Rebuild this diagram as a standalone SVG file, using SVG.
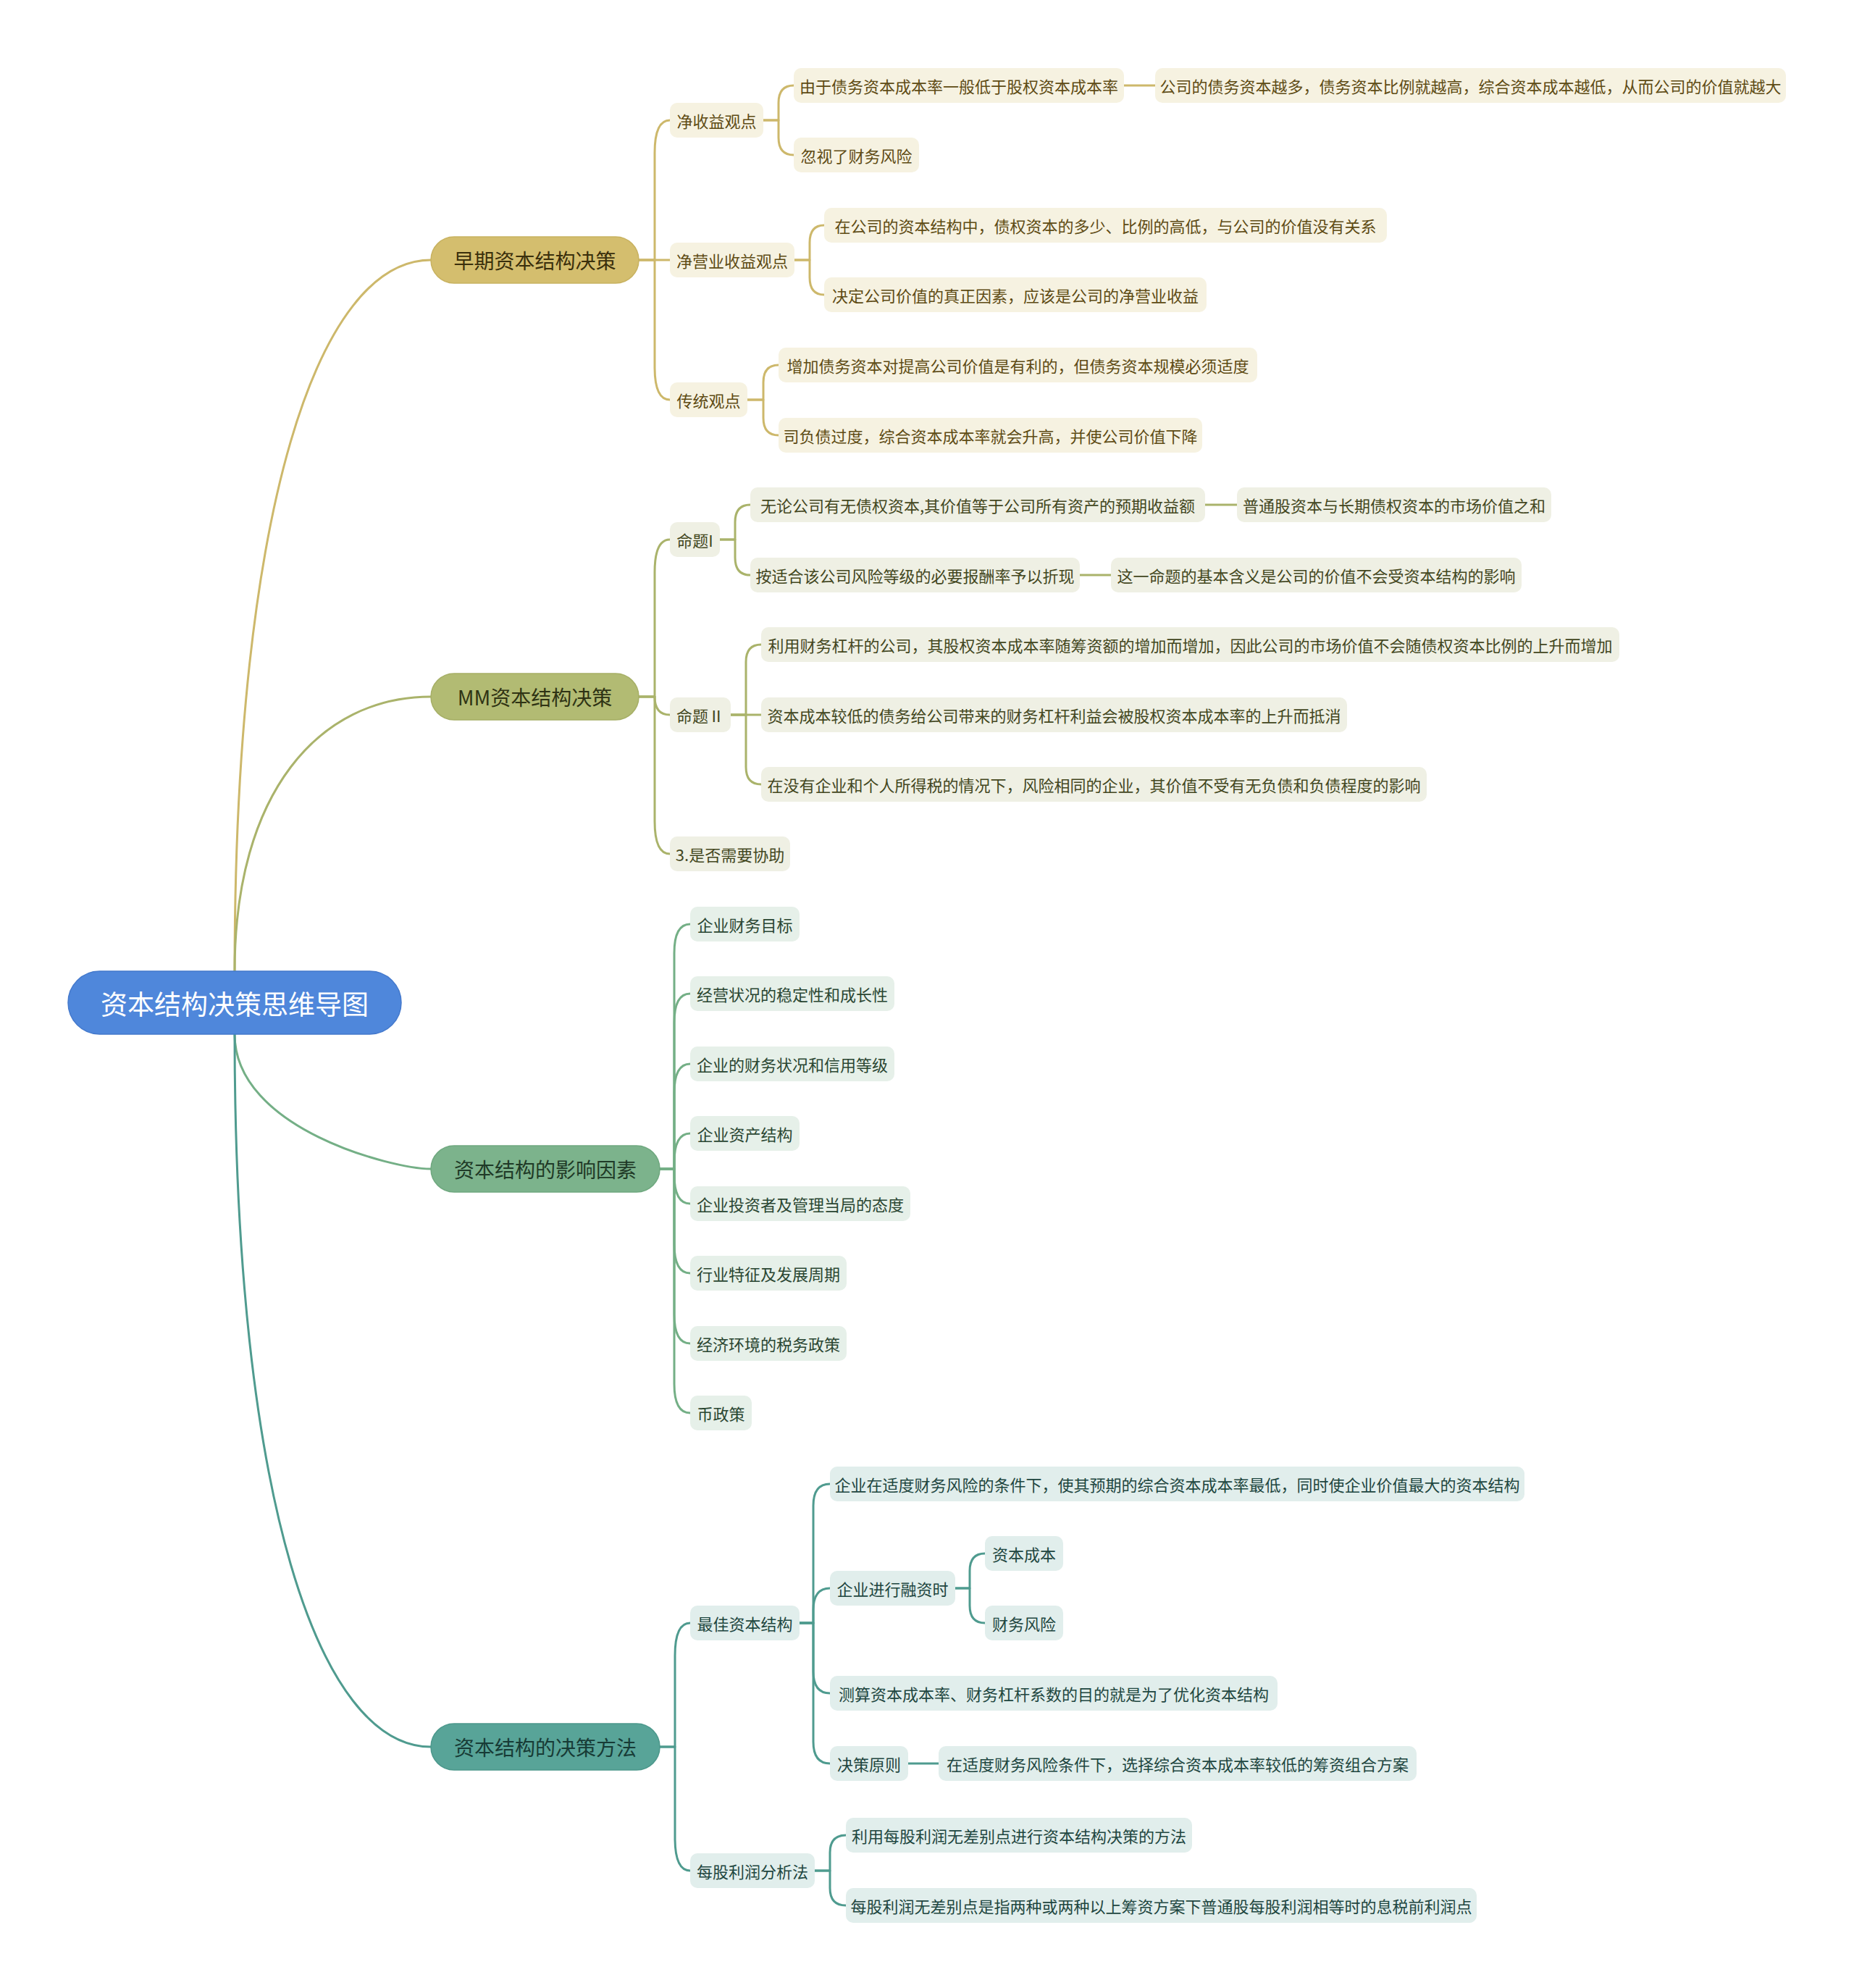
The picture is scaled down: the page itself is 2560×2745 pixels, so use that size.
<svg xmlns="http://www.w3.org/2000/svg" width="2560" height="2745" viewBox="0 0 2560 2745">
<style>
text{font-family:"Noto Sans CJK SC","Noto Sans",sans-serif;text-anchor:middle;dominant-baseline:central;}
.f0{font-size:37px;fill:#ffffff;}
.f1{font-size:28px;}
.f2{font-size:22px;}
.c{fill:none;stroke-width:3;stroke-linecap:round;stroke-linejoin:round;}
.cg{stroke:#CDB86B;} .co{stroke:#AAB36B;} .cn{stroke:#74AF86;} .ct{stroke:#4F9B8F;}
.rg{fill:#F6F2E1;} .ro{fill:#EFF0E4;} .rn{fill:#E6F0E9;} .rt{fill:#E1EEEC;}
.tg{fill:#5E4B14;} .to{fill:#43471E;} .tn{fill:#2A4632;} .tt{fill:#1E4640;}
</style>
<rect width="2560" height="2745" fill="#ffffff"/>
<g id="connectors">
<path class="c cg" d="M 324 1341 C 324 700 440 359 595 359"/>
<path class="c co" d="M 324 1341 C 324 1095 440 962 595 962"/>
<path class="c cn" d="M 324 1428 C 324 1559 543 1614 595 1614"/>
<path class="c ct" d="M 324 1428 C 324 2068 440 2412 595 2412"/>
<!-- A -->
<path class="c cg" d="M 882 359 H 904 V 211 Q 904 166 925 166"/>
<path class="c cg" d="M 882 359 H 925"/>
<path class="c cg" d="M 882 359 H 904 V 507 Q 904 552 925 552"/>
<path class="c cg" d="M 1054 166 H 1075 V 142 Q 1075 118 1096 118"/>
<path class="c cg" d="M 1054 166 H 1075 V 190 Q 1075 214 1096 214"/>
<path class="c cg" d="M 1097 359 H 1118 V 335 Q 1118 311 1138 311"/>
<path class="c cg" d="M 1097 359 H 1118 V 383 Q 1118 407 1138 407"/>
<path class="c cg" d="M 1032 552 H 1054 V 528 Q 1054 504 1075 504"/>
<path class="c cg" d="M 1032 552 H 1054 V 577 Q 1054 601 1075 601"/>
<path class="c cg" d="M 1552 118 H 1595"/>
<!-- B -->
<path class="c co" d="M 882 962 H 904 V 790 Q 904 745 925 745"/>
<path class="c co" d="M 882 962 H 904 Q 904 987 925 987"/>
<path class="c co" d="M 882 962 H 904 V 1134 Q 904 1179 925 1179"/>
<path class="c co" d="M 994 745 H 1015 V 721 Q 1015 697 1036 697"/>
<path class="c co" d="M 994 745 H 1015 V 770 Q 1015 794 1036 794"/>
<path class="c co" d="M 1009 987 H 1030 V 914 Q 1030 890 1051 890"/>
<path class="c co" d="M 1009 987 H 1051"/>
<path class="c co" d="M 1009 987 H 1030 V 1059 Q 1030 1083 1051 1083"/>
<path class="c co" d="M 1664 697 H 1708"/>
<path class="c co" d="M 1491 794 H 1534"/>
<!-- C -->
<path class="c cn" d="M 911 1614 H 931 V 1316 Q 931 1276 953 1276"/>
<path class="c cn" d="M 911 1614 H 931 V 1412 Q 931 1372 953 1372"/>
<path class="c cn" d="M 911 1614 H 931 V 1509 Q 931 1469 953 1469"/>
<path class="c cn" d="M 911 1614 H 931 V 1605 Q 931 1565 953 1565"/>
<path class="c cn" d="M 911 1614 H 931 V 1622 Q 931 1662 953 1662"/>
<path class="c cn" d="M 911 1614 H 931 V 1718 Q 931 1758 953 1758"/>
<path class="c cn" d="M 911 1614 H 931 V 1815 Q 931 1855 953 1855"/>
<path class="c cn" d="M 911 1614 H 931 V 1911 Q 931 1951 953 1951"/>
<!-- D -->
<path class="c ct" d="M 911 2412 H 932 V 2286 Q 932 2241 953 2241"/>
<path class="c ct" d="M 911 2412 H 932 V 2538 Q 932 2583 953 2583"/>
<path class="c ct" d="M 1104 2241 H 1123 V 2079 Q 1123 2049 1146 2049"/>
<path class="c ct" d="M 1104 2241 H 1123 V 2223 Q 1123 2193 1146 2193"/>
<path class="c ct" d="M 1104 2241 H 1123 V 2308 Q 1123 2338 1146 2338"/>
<path class="c ct" d="M 1104 2241 H 1123 V 2405 Q 1123 2435 1146 2435"/>
<path class="c ct" d="M 1319 2193 H 1339 V 2169 Q 1339 2145 1360 2145"/>
<path class="c ct" d="M 1319 2193 H 1339 V 2217 Q 1339 2241 1360 2241"/>
<path class="c ct" d="M 1254 2435 H 1296"/>
<path class="c ct" d="M 1125 2583 H 1146 V 2558 Q 1146 2534 1168 2534"/>
<path class="c ct" d="M 1125 2583 H 1146 V 2607 Q 1146 2631 1168 2631"/>
</g>
<g id="root"><rect x="94" y="1341" width="460" height="87" rx="43.5" fill="#4F87DB" stroke="#4479CC" stroke-width="1.5"/><text class="f0" x="324" y="1385">资本结构决策思维导图</text></g>
<g id="n-A"><rect x="595" y="327" width="287" height="64" rx="32" fill="#D4BE6E" stroke="#C8B260" stroke-width="1.5"/><text class="f1" x="738.5" y="359" fill="#3A2F0C">早期资本结构决策</text></g>
<g id="n-B"><rect x="595" y="930" width="287" height="64" rx="32" fill="#B2BB73" stroke="#A6AF66" stroke-width="1.5"/><text class="f1" x="738.5" y="962" fill="#2F3314">MM资本结构决策</text></g>
<g id="n-C"><rect x="595" y="1582" width="316" height="64" rx="32" fill="#7CB38C" stroke="#6FA87F" stroke-width="1.5"/><text class="f1" x="753" y="1614" fill="#1F3A27">资本结构的影响因素</text></g>
<g id="n-D"><rect x="595" y="2380" width="316" height="64" rx="32" fill="#58A498" stroke="#4C988C" stroke-width="1.5"/><text class="f1" x="753" y="2412" fill="#173B36">资本结构的决策方法</text></g>
<!-- A children -->
<g id="n-A1"><rect class="rg" x="925" y="142" width="129" height="48" rx="10"/><text class="f2 tg" x="989.5" y="166">净收益观点</text></g>
<g id="n-A2"><rect class="rg" x="925" y="335" width="172" height="48" rx="10"/><text class="f2 tg" x="1011" y="359">净营业收益观点</text></g>
<g id="n-A3"><rect class="rg" x="925" y="528" width="107" height="48" rx="10"/><text class="f2 tg" x="978.5" y="552">传统观点</text></g>
<g id="n-A1a"><rect class="rg" x="1096" y="94" width="456" height="48" rx="10"/><text class="f2 tg" x="1324" y="118">由于债务资本成本率一般低于股权资本成本率</text></g>
<g id="n-A1a1"><rect class="rg" x="1595" y="94" width="871" height="48" rx="10"/><text class="f2 tg" x="2030.5" y="118">公司的债务资本越多，债务资本比例就越高，综合资本成本越低，从而公司的价值就越大</text></g>
<g id="n-A1b"><rect class="rg" x="1096" y="190" width="173" height="48" rx="10"/><text class="f2 tg" x="1182.5" y="214">忽视了财务风险</text></g>
<g id="n-A2a"><rect class="rg" x="1138" y="287" width="777" height="48" rx="10"/><text class="f2 tg" x="1526.5" y="311">在公司的资本结构中，债权资本的多少、比例的高低，与公司的价值没有关系</text></g>
<g id="n-A2b"><rect class="rg" x="1138" y="383" width="528" height="48" rx="10"/><text class="f2 tg" x="1402" y="407">决定公司价值的真正因素，应该是公司的净营业收益</text></g>
<g id="n-A3a"><rect class="rg" x="1075" y="480" width="661" height="48" rx="10"/><text class="f2 tg" x="1405.5" y="504">增加债务资本对提高公司价值是有利的，但债务资本规模必须适度</text></g>
<g id="n-A3b"><rect class="rg" x="1075" y="577" width="585" height="48" rx="10"/><text class="f2 tg" x="1367.5" y="601">司负债过度，综合资本成本率就会升高，并使公司价值下降</text></g>
<!-- B children -->
<g id="n-B1"><rect class="ro" x="925" y="721" width="69" height="48" rx="10"/><text class="f2 to" x="959.5" y="745">命题I</text></g>
<g id="n-B2"><rect class="ro" x="925" y="963" width="84" height="48" rx="10"/><text class="f2 to" x="967" y="987">命题Ⅱ</text></g>
<g id="n-B3"><rect class="ro" x="925" y="1155" width="166" height="48" rx="10"/><text class="f2 to" x="1008" y="1179">3.是否需要协助</text></g>
<g id="n-B1a"><rect class="ro" x="1036" y="673" width="628" height="48" rx="10"/><text class="f2 to" x="1350" y="697">无论公司有无债权资本,其价值等于公司所有资产的预期收益额</text></g>
<g id="n-B1a1"><rect class="ro" x="1708" y="673" width="434" height="48" rx="10"/><text class="f2 to" x="1925" y="697">普通股资本与长期债权资本的市场价值之和</text></g>
<g id="n-B1b"><rect class="ro" x="1036" y="770" width="455" height="48" rx="10"/><text class="f2 to" x="1263.5" y="794">按适合该公司风险等级的必要报酬率予以折现</text></g>
<g id="n-B1b1"><rect class="ro" x="1534" y="770" width="567" height="48" rx="10"/><text class="f2 to" x="1817.5" y="794">这一命题的基本含义是公司的价值不会受资本结构的影响</text></g>
<g id="n-B2a"><rect class="ro" x="1051" y="866" width="1185" height="48" rx="10"/><text class="f2 to" x="1643.5" y="890">利用财务杠杆的公司，其股权资本成本率随筹资额的增加而增加，因此公司的市场价值不会随债权资本比例的上升而增加</text></g>
<g id="n-B2b"><rect class="ro" x="1051" y="963" width="809" height="48" rx="10"/><text class="f2 to" x="1455.5" y="987">资本成本较低的债务给公司带来的财务杠杆利益会被股权资本成本率的上升而抵消</text></g>
<g id="n-B2c"><rect class="ro" x="1051" y="1059" width="919" height="48" rx="10"/><text class="f2 to" x="1510.5" y="1083">在没有企业和个人所得税的情况下，风险相同的企业，其价值不受有无负债和负债程度的影响</text></g>
<!-- C children -->
<g id="n-C1"><rect class="rn" x="953" y="1252" width="151" height="48" rx="10"/><text class="f2 tn" x="1028.5" y="1276">企业财务目标</text></g>
<g id="n-C2"><rect class="rn" x="953" y="1348" width="282" height="48" rx="10"/><text class="f2 tn" x="1094" y="1372">经营状况的稳定性和成长性</text></g>
<g id="n-C3"><rect class="rn" x="953" y="1445" width="282" height="48" rx="10"/><text class="f2 tn" x="1094" y="1469">企业的财务状况和信用等级</text></g>
<g id="n-C4"><rect class="rn" x="953" y="1541" width="151" height="48" rx="10"/><text class="f2 tn" x="1028.5" y="1565">企业资产结构</text></g>
<g id="n-C5"><rect class="rn" x="953" y="1638" width="304" height="48" rx="10"/><text class="f2 tn" x="1105" y="1662">企业投资者及管理当局的态度</text></g>
<g id="n-C6"><rect class="rn" x="953" y="1734" width="216" height="48" rx="10"/><text class="f2 tn" x="1061" y="1758">行业特征及发展周期</text></g>
<g id="n-C7"><rect class="rn" x="953" y="1831" width="216" height="48" rx="10"/><text class="f2 tn" x="1061" y="1855">经济环境的税务政策</text></g>
<g id="n-C8"><rect class="rn" x="953" y="1927" width="85" height="48" rx="10"/><text class="f2 tn" x="995.5" y="1951">币政策</text></g>
<!-- D children -->
<g id="n-D1"><rect class="rt" x="953" y="2217" width="151" height="48" rx="10"/><text class="f2 tt" x="1028.5" y="2241">最佳资本结构</text></g>
<g id="n-D2"><rect class="rt" x="953" y="2559" width="172" height="48" rx="10"/><text class="f2 tt" x="1039" y="2583">每股利润分析法</text></g>
<g id="n-D1a"><rect class="rt" x="1146" y="2025" width="959" height="48" rx="10"/><text class="f2 tt" x="1625.5" y="2049">企业在适度财务风险的条件下，使其预期的综合资本成本率最低，同时使企业价值最大的资本结构</text></g>
<g id="n-D1b"><rect class="rt" x="1146" y="2169" width="173" height="48" rx="10"/><text class="f2 tt" x="1232.5" y="2193">企业进行融资时</text></g>
<g id="n-D1b1"><rect class="rt" x="1360" y="2121" width="108" height="48" rx="10"/><text class="f2 tt" x="1414" y="2145">资本成本</text></g>
<g id="n-D1b2"><rect class="rt" x="1360" y="2217" width="108" height="48" rx="10"/><text class="f2 tt" x="1414" y="2241">财务风险</text></g>
<g id="n-D1c"><rect class="rt" x="1146" y="2314" width="618" height="48" rx="10"/><text class="f2 tt" x="1455" y="2338">测算资本成本率、财务杠杆系数的目的就是为了优化资本结构</text></g>
<g id="n-D1d"><rect class="rt" x="1146" y="2411" width="108" height="48" rx="10"/><text class="f2 tt" x="1200" y="2435">决策原则</text></g>
<g id="n-D1d1"><rect class="rt" x="1296" y="2411" width="660" height="48" rx="10"/><text class="f2 tt" x="1626" y="2435">在适度财务风险条件下，选择综合资本成本率较低的筹资组合方案</text></g>
<g id="n-D2a"><rect class="rt" x="1168" y="2510" width="478" height="48" rx="10"/><text class="f2 tt" x="1407" y="2534">利用每股利润无差别点进行资本结构决策的方法</text></g>
<g id="n-D2b"><rect class="rt" x="1168" y="2607" width="871" height="48" rx="10"/><text class="f2 tt" x="1603.5" y="2631">每股利润无差别点是指两种或两种以上筹资方案下普通股每股利润相等时的息税前利润点</text></g>
</svg>
